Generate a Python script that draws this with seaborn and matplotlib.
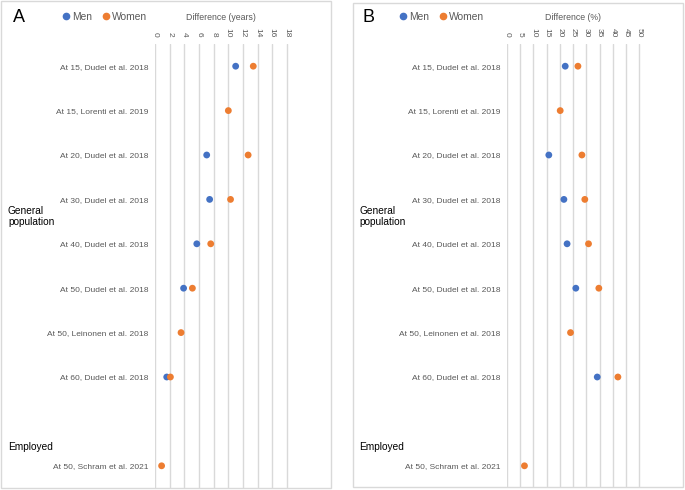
import matplotlib
matplotlib.use("Agg")
import matplotlib.pyplot as plt
from matplotlib.patches import Rectangle
from matplotlib.lines import Line2D
import seaborn as sns
import pandas as pd
import numpy as np

sns.set_theme(style="white")
plt.rcParams['font.family'] = ['Liberation Sans', 'DejaVu Sans']

# ---------------- data ----------------
categories = [
    "At 15, Dudel et al. 2018",
    "At 15, Lorenti et al. 2019",
    "At 20, Dudel et al. 2018",
    "At 30, Dudel et al. 2018",
    "At 40, Dudel et al. 2018",
    "At 50, Dudel et al. 2018",
    "At 50, Leinonen et al. 2018",
    "At 60, Dudel et al. 2018",
    "",
    "At 50, Schram et al. 2021",
]
groups = ["General\npopulation", "Employed"]
group_rows = ["At 30, Dudel et al. 2018", "At 50, Schram et al. 2021"]

# Panel A: difference in years
men_years = [11.0, np.nan, 7.05, 7.45, 5.7, 3.9, np.nan, 1.6, np.nan, np.nan]
women_years = [13.4, 10.0, 12.7, 10.3, 7.6, 5.1, 3.55, 2.1, np.nan, 0.9]
ticks_years = [0, 2, 4, 6, 8, 10, 12, 14, 16, 18]

# Panel B: difference in %
men_pct = [22.0, np.nan, 15.8, 21.5, 22.7, 26.0, np.nan, 34.1, np.nan, np.nan]
women_pct = [26.8, 20.1, 28.3, 29.4, 30.8, 34.7, 24.0, 41.9, np.nan, 6.6]
ticks_pct = [0, 5, 10, 15, 20, 25, 30, 35, 40, 45, 50]

MEN_C = "#4472C4"
WOMEN_C = "#ED7D31"
GRID_C = "#D9D9D9"
TXT_C = "#595959"

W, H = 685, 490
fig = plt.figure(figsize=(W / 100, H / 100), dpi=100)


def px_rect(x0, y0, x1, y1):
    return [x0 / W, 1 - y1 / H, (x1 - x0) / W, (y1 - y0) / H]


def make_df(men, women):
    rows = []
    for i, c in enumerate(categories):
        if not np.isnan(men[i]):
            rows.append({"row": i, "value": men[i], "sex": "Men"})
        if not np.isnan(women[i]):
            rows.append({"row": i, "value": women[i], "sex": "Women"})
    return pd.DataFrame(rows)


def panel(frame, ax_px, men, women, ticks, xmax, title, letter, letter_x,
          legend_x, group_x):
    # frame
    x0, y0, x1, y1 = frame
    fig.patches.append(Rectangle((x0 / W, 1 - y1 / H), (x1 - x0) / W, (y1 - y0) / H,
                                 transform=fig.transFigure, fill=False,
                                 edgecolor=GRID_C, linewidth=1.0))
    ax = fig.add_axes(px_rect(*ax_px))
    df = make_df(men, women)
    sns.scatterplot(data=df, x="value", y="row", hue="sex",
                    palette={"Men": MEN_C, "Women": WOMEN_C},
                    hue_order=["Men", "Women"], s=24, edgecolor="none",
                    legend=False, ax=ax, zorder=3)
    ax.set_xlim(ticks[0], xmax)
    ax.set_ylim(len(categories) - 0.5, -0.5)
    ax.set_xticks(ticks)
    ax.set_xticklabels([str(t) for t in ticks], rotation=-90, fontsize=6.0,
                       color=TXT_C)
    ax.xaxis.tick_top()
    ax.tick_params(axis="x", length=0, pad=5)
    ax.set_yticks(range(len(categories)))
    ax.set_yticklabels(categories, fontsize=6.0, color=TXT_C)
    ax.tick_params(axis="y", length=0, pad=5)
    ax.set_xlabel("")
    ax.set_ylabel("")
    ax.grid(axis="x", color=GRID_C, linewidth=1.0)
    ax.grid(axis="y", visible=False)
    for s in ax.spines.values():
        s.set_visible(False)
    ax.patch.set_alpha(0)
    # axis title
    cx = (ticks[0] + ticks[-1]) / 2
    ax.annotate(title, xy=(cx, 1), xycoords=("data", "axes fraction"),
                xytext=(0, 27), textcoords="offset pixels", ha="center",
                va="center", fontsize=6.3, color=TXT_C)
    # panel letter
    fig.text(letter_x / W, 1 - 17 / H, letter, fontsize=13, va="center",
             ha="left", color="black")
    # legend
    handles = [Line2D([], [], marker="o", linestyle="none", color=MEN_C,
                      markersize=4.5, label="Men"),
               Line2D([], [], marker="o", linestyle="none", color=WOMEN_C,
                      markersize=4.5, label="Women")]
    fig.legend(handles=handles, loc="center left",
               bbox_to_anchor=(legend_x / W, 1 - 17 / H), ncol=2, frameon=False,
               fontsize=7.4, handletextpad=0.1, columnspacing=0.8,
               handlelength=1.0, borderpad=0, labelcolor=TXT_C)
    # group labels
    for g, r in zip(groups, group_rows):
        i = categories.index(r)
        ax.annotate(g, xy=(0, i), xycoords=("figure fraction", "data"),
                    xytext=(group_x, 19 if g == "Employed" else -17),
                    textcoords="offset pixels", ha="left",
                    va="center", fontsize=7.3, color="black",
                    linespacing=1.15, annotation_clip=False)
    return ax


panel((1, 1, 331, 488), (155, 44, 331, 488), men_years, women_years,
      ticks_years, 24, "Difference (years)", "A", 13, 56, 8)
panel((353, 3, 683, 487), (507, 44, 683, 488), men_pct, women_pct,
      ticks_pct, 66.5, "Difference (%)", "B", 362, 393, 359)

fig.savefig("out.png", dpi=100)
